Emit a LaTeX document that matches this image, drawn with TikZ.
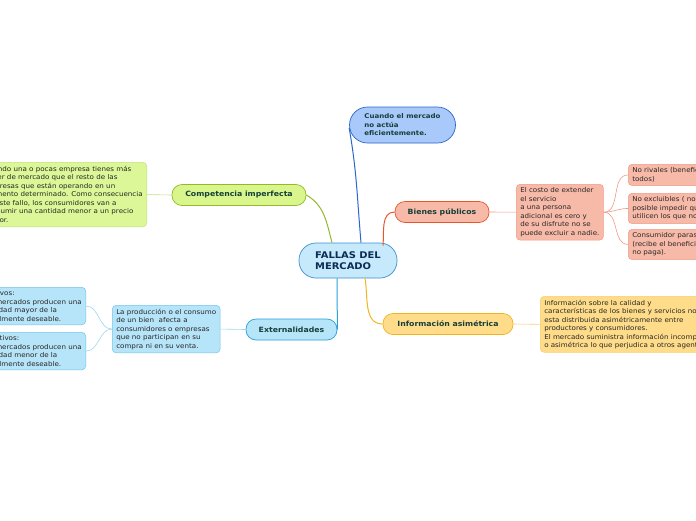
\documentclass[tikz,border=0pt]{standalone}
\usepackage{fontspec}
\setmainfont[FakeStretch=1.08]{DejaVu Sans}

\definecolor{titletxt}{HTML}{0B2C55}
\definecolor{labtxt}{HTML}{153F3A}
\definecolor{cfill}{HTML}{C6EAFB}\definecolor{cdraw}{HTML}{3D8FD0}
\definecolor{qfill}{HTML}{A8C9FA}\definecolor{qdraw}{HTML}{2A66CC}
\definecolor{gfill}{HTML}{D8F68C}\definecolor{gdraw}{HTML}{94B82A}\definecolor{gnote}{HTML}{C2E27C}
\definecolor{bfill}{HTML}{B6E4F8}\definecolor{bdraw}{HTML}{2A9FDC}\definecolor{bnote}{HTML}{72C6EC}
\definecolor{rfill}{HTML}{F8BAA8}\definecolor{rdraw}{HTML}{E8552A}\definecolor{rnote}{HTML}{F09A84}
\definecolor{yfill}{HTML}{FEDC8A}\definecolor{ydraw}{HTML}{F2B320}\definecolor{ynote}{HTML}{F7CF70}

\begin{document}
\begin{tikzpicture}[x=1pt,y=1pt,
  pill/.style={rounded corners=10pt, line width=0.7pt, minimum height=21pt, inner ysep=0pt,
    font=\bfseries\fontsize{7.2}{8}\selectfont, text=labtxt},
  note/.style={rounded corners=4pt, line width=0.5pt, align=left, inner xsep=4pt, inner ysep=3.5pt,
    font=\fontsize{6.6}{8.5}\selectfont, text=black!85},
  link/.style={line width=1pt},
  sublink/.style={line width=0.6pt}]
\useasboundingbox (0,0) rectangle (696,-520);

% centre and main branches
\node[draw=cdraw, fill=cfill, line width=0.7pt, rounded corners=17pt, minimum width=98pt,
  minimum height=35pt, align=left, text=titletxt, font=\bfseries\fontsize{9.2}{11.5}\selectfont]
  (fallas) at (348,-260.5) {FALLAS DEL\\MERCADO};
\node[draw=qdraw, fill=qfill, line width=0.7pt, rounded corners=18pt, minimum width=106pt,
  minimum height=36pt, align=left, text=labtxt, font=\bfseries\fontsize{6.5}{8.5}\selectfont]
  (cuando) at (402.5,-125) {Cuando el mercado\\no actúa\\eficientemente.};
\node[pill, draw=gdraw, fill=gfill, minimum width=134pt] (comp) at (239,-195) {Competencia imperfecta};
\node[pill, draw=bdraw, fill=bfill, minimum width=91pt] (ext) at (291.5,-329.5) {Externalidades};
\node[pill, draw=rdraw, fill=rfill, minimum width=94pt] (bienes) at (442,-212) {Bienes públicos};
\node[pill, draw=ydraw, fill=yfill, minimum width=130pt] (info) at (448,-324) {Información asimétrica};

% notes
\node[note, draw=gnote, fill=gfill!90!white, anchor=north east] (compnota) at (147,-162)
  {Cuando una o pocas empresa tienes más\\poder de mercado que el resto de las\\empresas que están operando en un\\momento determinado. Como consecuencia\\de este fallo, los consumidores van a\\consumir una cantidad menor a un precio\\mayor.};
\node[note, draw=bnote, fill=bfill, anchor=north west] (extnota) at (112,-305)
  {La producción o el consumo\\de un bien\ \ afecta a\\consumidores o empresas\\que no participan en su\\compra ni en su venta.};
\node[note, draw=bnote, fill=bfill, anchor=north east] (pos) at (86,-287)
  {Positivos:\\Los mercados producen una\\cantidad mayor de la\\socialmente deseable.};
\node[note, draw=bnote, fill=bfill, anchor=north east] (neg) at (86,-332)
  {Negativos:\\Los mercados producen una\\cantidad menor de la\\socialmente deseable.};
\node[note, draw=rnote, fill=rfill, anchor=north west] (bnota) at (516,-184)
  {El costo de extender\\el servicio\\a una persona\\adicional es cero y\\de su disfrute no se\\puede excluir a nadie.};
\node[note, draw=rnote, fill=rfill, anchor=north west] (rival) at (628,-164)
  {No rivales (beneficia a\\todos)};
\node[note, draw=rnote, fill=rfill, anchor=north west] (excl) at (628,-193)
  {No excluibles ( no es\\posible impedir que lo\\utilicen los que no pagan)};
\node[note, draw=rnote, fill=rfill, anchor=north west] (paras) at (628,-229)
  {Consumidor parasito\\(recibe el beneficio y\\no paga).};
\node[note, draw=ynote, fill=yfill, anchor=north west] (inota) at (540,-296)
  {Información sobre la calidad y\\características de los bienes y servicios no\\esta distribuida asimétricamente entre\\productores y consumidores.\\El mercado suministra información incompleta\\o asimétrica lo que perjudica a otros agentes.};

% connectors
\draw[link, qdraw] ([xshift=13pt]fallas.north) to[out=95,in=-80] ([yshift=-3pt]cuando.west);
\draw[link, gdraw] ([xshift=-16pt]fallas.north) to[out=105,in=-30] (comp.east);
\draw[link, rdraw] ([xshift=35pt,yshift=-3pt]fallas.north) to[out=85,in=180] (bienes.west);
\draw[link, bdraw] ([xshift=-11pt]fallas.south) to[out=-90,in=90] (ext.east);
\draw[link, ydraw] ([xshift=17pt]fallas.south) to[out=-80,in=180] (info.west);
\draw[sublink, gnote] (comp.west) -- (compnota.east);
\draw[sublink, bnote!70] (ext.west) -- (extnota.east);
\draw[sublink, bnote!70] (extnota.west) to[out=180,in=0] (pos.east);
\draw[sublink, bnote!70] (extnota.west) to[out=180,in=0] (neg.east);
\draw[sublink, rnote] (bienes.east) -- (bnota.west);
\foreach \r in {rival,excl,paras}
  \draw[sublink, rnote] (bnota.east) to[out=0,in=180] (\r.west);
\draw[sublink, ynote] (info.east) -- (inota.west);
\end{tikzpicture}
\end{document}
